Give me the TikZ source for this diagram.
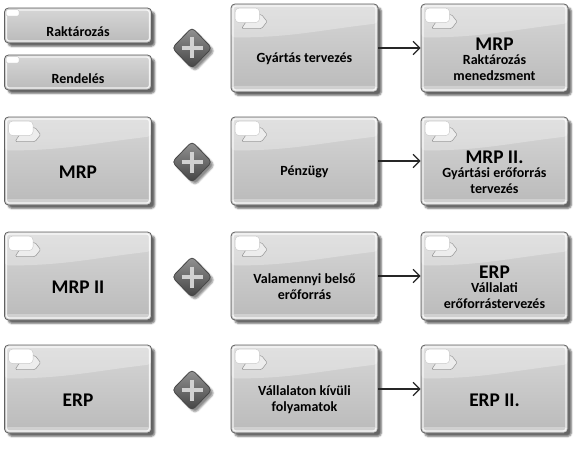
\documentclass[tikz,border=0pt]{standalone}
\usepackage{fontspec}
\setmainfont{Carlito}
\usetikzlibrary{shapes.geometric,shadows.blur,arrows.meta,calc}
\begin{document}
\begin{tikzpicture}[x=0.75pt,y=-0.75pt,
  boxbase/.style={rectangle, rounded corners=3pt, minimum width=110.25pt,
    inner sep=0pt, draw=black!62, line width=0.6pt,
    top color=black!16, bottom color=black!27,
    blur shadow={shadow xshift=2.6pt, shadow yshift=-2.6pt,
      shadow blur radius=1.3pt, shadow opacity=60}},
  procbox/.style={boxbase, minimum height=66pt,
    path picture={
      \coordinate (NW) at (path picture bounding box.north west);
      \coordinate (NE) at (path picture bounding box.north east);
      \coordinate (SW) at (path picture bounding box.south west);
      \coordinate (SE) at (path picture bounding box.south east);
      \fill[white,opacity=0.28] (NW) -- (NE) -- ($(NE)!0.22!(SE)$)
        .. controls ($(NE)!0.3!(SE)+(-60,0)$) and ($(NW)!0.38!(SW)+(60,0)$)
        .. ($(NW)!0.38!(SW)$) -- cycle;
      \fill[white,opacity=0.3] ($(SW)+(0,-6)$) rectangle (SE);
      \draw[white,opacity=0.8,line width=1pt,rounded corners=2pt]
        ($(NW)+(2,2)$) rectangle ($(SE)+(-2,-2)$);
    }},
  smallbox/.style={boxbase, minimum height=26.25pt,
    path picture={
      \coordinate (NW) at (path picture bounding box.north west);
      \coordinate (SE) at (path picture bounding box.south east);
      \draw[white,opacity=0.8,line width=1pt,rounded corners=2pt]
        ($(NW)+(2,2)$) rectangle ($(SE)+(-2,-2)$);
    }},
  tabtail/.style={fill=black!7, draw=black!40, line width=0.4pt, rounded corners=1pt},
  tabface/.style={fill=white, draw=black!22, line width=0.3pt, rounded corners=3pt},
  plusnode/.style={diamond, minimum width=30pt, minimum height=31pt,
    inner sep=0pt, rounded corners=3pt, draw=black!72, line width=0.6pt,
    top color=black!42, bottom color=black!74,
    blur shadow={shadow xshift=2.2pt, shadow yshift=-2.2pt,
      shadow blur radius=1.2pt, shadow opacity=45},
    path picture={
      \draw[white!82!black,line width=3.6pt]
        ($(path picture bounding box.center)+(-10.5,0)$) -- +(21,0);
      \draw[white!82!black,line width=3.6pt]
        ($(path picture bounding box.center)+(0,-10.5)$) -- +(0,21);
    }},
  lbl/.style={font=\fontsize{10.5pt}{11.8pt}\selectfont\bfseries, align=center, inner sep=0pt},
  big/.style={font=\fontsize{14.5pt}{17pt}\selectfont\bfseries, align=center, inner sep=0pt},
  arr/.style={draw=black!85, line width=0.9pt, -{Straight Barb[length=5pt,width=10pt]}}
]
\useasboundingbox (0,0) rectangle (580,449);

% row 1
\node[smallbox] (la) at (78,25.5) {};
\node[smallbox] (lb) at (78,72.5) {};
\node[plusnode] (p1) at (192,48) {};
\node[procbox] (m1) at (304.5,48) {};
\node[procbox] (r1) at (494.5,48) {};
% row 2
\node[procbox] (l2) at (78,161) {};
\node[plusnode] (p2) at (192,162) {};
\node[procbox] (m2) at (304.5,161) {};
\node[procbox] (r2) at (494.5,161) {};
% row 3
\node[procbox] (l3) at (78,276) {};
\node[plusnode] (p3) at (192,277) {};
\node[procbox] (m3) at (304.5,276) {};
\node[procbox] (r3) at (494.5,276) {};
% row 4
\node[procbox] (l4) at (78,389) {};
\node[plusnode] (p4) at (192,390) {};
\node[procbox] (m4) at (304.5,389) {};
\node[procbox] (r4) at (494.5,389) {};

% corner tabs
\foreach \n in {m1,r1,l2,m2,r2,l3,m3,r3,l4,m4,r4}{
  \path[tabtail] ($(\n.north west)+(11,25)$) -- ($(\n.north west)+(31,25)$)
    -- ($(\n.north west)+(36.5,18)$) -- ($(\n.north west)+(31,11)$)
    -- ($(\n.north west)+(20,11)$) -- cycle;
  \path[tabface] ($(\n.north west)+(4.5,4.5)$) rectangle ($(\n.north west)+(29,19)$);
}
\foreach \n in {la,lb}{
  \path[tabface,rounded corners=1.5pt] ($(\n.north west)+(2,2)$) rectangle ($(\n.north west)+(15,8.5)$);
}

% texts
\node[lbl] (tla) at ($(la.center)+(0,6)$) {Raktározás};
\node[lbl] (tlb) at ($(lb.center)+(0,6)$) {Rendelés};
\node[lbl] (tm1) at ($(m1.center)+(0,11)$) {Gyártás tervezés};
\node[lbl] (tr1) at ($(r1.center)+(0,11)$) {{\fontsize{14.5pt}{17pt}\selectfont MRP}\\[-1pt]Raktározás\\menedzsment};

\node[big] (tl2) at ($(l2.center)+(0,11)$) {MRP};
\node[lbl] (tm2) at ($(m2.center)+(0,11)$) {Pénzügy};
\node[lbl] (tr2) at ($(r2.center)+(0,11)$) {{\fontsize{14.5pt}{17pt}\selectfont MRP II.}\\[-1pt]Gyártási erőforrás\\tervezés};

\node[big] (tl3) at ($(l3.center)+(0,11)$) {MRP II};
\node[lbl] (tm3) at ($(m3.center)+(0,11)$) {Valamennyi belső\\erőforrás};
\node[lbl] (tr3) at ($(r3.center)+(0,11)$) {{\fontsize{14.5pt}{17pt}\selectfont ERP}\\[-1pt]Vállalati\\erőforrástervezés};

\node[big] (tl4) at ($(l4.center)+(0,11)$) {ERP};
\node[lbl] (tm4) at ($(m4.center)+(0,11)$) {Vállalaton kívüli\\folyamatok};
\node[big] (tr4) at ($(r4.center)+(0,11)$) {ERP II.};

% arrows
\draw[arr] (m1) -- (r1);
\draw[arr] (m2) -- (r2);
\draw[arr] (m3) -- (r3);
\draw[arr] (m4) -- (r4);
\end{tikzpicture}
\end{document}
